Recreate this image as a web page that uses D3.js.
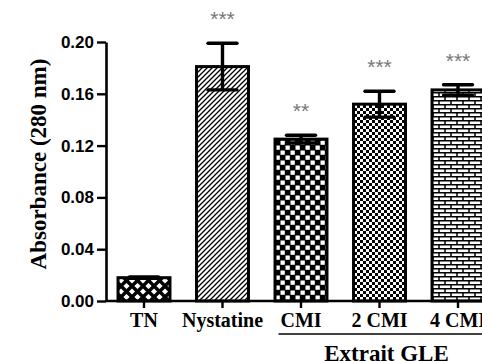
<!DOCTYPE html>
<html>
<head>
<meta charset="utf-8">
<script src="https://cdn.jsdelivr.net/npm/d3@7"></script>
<style>
  body { margin: 0; background: #fff; }
  svg { display: block; }
</style>
</head>
<body>
<div id="chart"></div>
<script>
const categories = ["TN", "Nystatine", "CMI", "2 CMI", "4 CMI"];
const means = [0.018, 0.181, 0.125, 0.152, 0.163];
const errors = [0.0005, 0.018, 0.003, 0.010, 0.004];
const stars = ["", "***", "**", "***", "***"];
const patterns = ["cross", "diag", "checker", "fine", "brick"];
const yTicks = [0, 0.04, 0.08, 0.12, 0.16, 0.20];
const groupLabel = "Extrait GLE";

const width = 482, height = 361;
const svg = d3.select("#chart").append("svg")
  .attr("width", width)
  .attr("height", height);

// fill patterns
const defs = svg.append("defs");

const cross = defs.append("pattern").attr("id", "cross")
  .attr("patternUnits", "userSpaceOnUse").attr("width", 11).attr("height", 11);
cross.append("rect").attr("width", 11).attr("height", 11).attr("fill", "#fff");
cross.append("path").attr("d", "M-1,-1L12,12M12,-1L-1,12")
  .attr("stroke", "#000").attr("stroke-width", 3.4);

const diag = defs.append("pattern").attr("id", "diag")
  .attr("patternUnits", "userSpaceOnUse").attr("width", 5).attr("height", 5);
diag.append("rect").attr("width", 5).attr("height", 5).attr("fill", "#fff");
diag.append("path").attr("d", "M-1,6L6,-1M-1,1L1,-1M4,6L6,4")
  .attr("stroke", "#000").attr("stroke-width", 1.3);

const checker = defs.append("pattern").attr("id", "checker")
  .attr("patternUnits", "userSpaceOnUse").attr("width", 10).attr("height", 10);
checker.append("rect").attr("width", 10).attr("height", 10).attr("fill", "#000");
checker.append("rect").attr("x", 0.5).attr("y", 0.5).attr("width", 4.3).attr("height", 4.3).attr("fill", "#fff");
checker.append("rect").attr("x", 5.5).attr("y", 5.5).attr("width", 4.3).attr("height", 4.3).attr("fill", "#fff");

const fine = defs.append("pattern").attr("id", "fine")
  .attr("patternUnits", "userSpaceOnUse").attr("width", 6).attr("height", 6);
fine.append("rect").attr("width", 6).attr("height", 6).attr("fill", "#fff");
fine.append("rect").attr("width", 3).attr("height", 3).attr("fill", "#000");
fine.append("rect").attr("x", 3).attr("y", 3).attr("width", 3).attr("height", 3).attr("fill", "#000");

const brick = defs.append("pattern").attr("id", "brick")
  .attr("patternUnits", "userSpaceOnUse").attr("width", 12).attr("height", 8);
brick.append("rect").attr("width", 12).attr("height", 8).attr("fill", "#fff");
brick.append("path").attr("d", "M0,0.7H12M0,4.7H12M1,0V4.7M7,4.7V8")
  .attr("stroke", "#000").attr("stroke-width", 1.5);

// scales
const x = d3.scaleBand()
  .domain(categories)
  .range([106, 496])
  .paddingInner(0.3)
  .paddingOuter(0.134);

const y = d3.scaleLinear()
  .domain([0, 0.2])
  .range([301, 42]);

// bars
svg.append("g")
  .selectAll("rect")
  .data(categories)
  .join("rect")
  .attr("x", d => x(d) + 1.5)
  .attr("y", (d, i) => y(means[i]))
  .attr("width", x.bandwidth() - 3)
  .attr("height", (d, i) => y(0) - y(means[i]))
  .attr("fill", (d, i) => `url(#${patterns[i]})`)
  .attr("stroke", "#000")
  .attr("stroke-width", 3);

// error bars
const eb = svg.append("g").attr("stroke", "#000").attr("stroke-width", 3.4);
categories.forEach((c, i) => {
  const cx = x(c) + x.bandwidth() / 2;
  const hi = y(means[i] + errors[i]), lo = y(means[i] - errors[i]);
  eb.append("line").attr("x1", cx).attr("x2", cx).attr("y1", hi).attr("y2", lo);
  eb.append("line").attr("x1", cx - 14.5).attr("x2", cx + 14.5).attr("y1", hi).attr("y2", hi)
    .attr("stroke-linecap", "round");
  eb.append("line").attr("x1", cx - 14.5).attr("x2", cx + 14.5).attr("y1", lo).attr("y2", lo)
    .attr("stroke-linecap", "round");
});

// significance stars
svg.append("g")
  .selectAll("text")
  .data(categories)
  .join("text")
  .attr("x", d => x(d) + x.bandwidth() / 2)
  .attr("y", (d, i) => y(means[i] + errors[i]) - 17)
  .attr("text-anchor", "middle")
  .attr("font-family", "'Liberation Sans', Arial, sans-serif")
  .attr("font-size", 21)
  .attr("fill", "#777")
  .text((d, i) => stars[i]);

// y axis
const yAxis = svg.append("g")
  .attr("transform", "translate(106,0)")
  .call(d3.axisLeft(y).tickValues(yTicks).tickFormat(d3.format(".2f")).tickSize(9).tickSizeOuter(0).tickPadding(3));
yAxis.select(".domain").attr("stroke-width", 2.6);
yAxis.selectAll(".tick line").attr("stroke-width", 2.4);
yAxis.selectAll(".tick text")
  .attr("font-family", "'Liberation Sans', Arial, sans-serif")
  .attr("font-weight", "bold")
  .attr("font-size", 17)
  .attr("fill", "#000");

// x axis
const xAxis = svg.append("g")
  .attr("transform", "translate(0,301)")
  .call(d3.axisBottom(x).tickSize(7).tickSizeOuter(0).tickPadding(5));
xAxis.select(".domain").attr("d", `M106,0H${width}`).attr("stroke-width", 2.6);
xAxis.selectAll(".tick line").attr("stroke-width", 2.4);
xAxis.selectAll(".tick text")
  .attr("font-family", "'Liberation Serif', 'Times New Roman', serif")
  .attr("font-weight", "bold")
  .attr("font-size", 20)
  .attr("fill", "#000");

// group bracket
svg.append("line")
  .attr("x1", x("CMI") + 5).attr("x2", width)
  .attr("y1", 334).attr("y2", 334)
  .attr("stroke", "#000").attr("stroke-width", 1.6);
svg.append("text")
  .attr("x", x("2 CMI") + x.bandwidth() / 2 + 7)
  .attr("y", 361)
  .attr("text-anchor", "middle")
  .attr("font-family", "'Liberation Serif', 'Times New Roman', serif")
  .attr("font-weight", "bold")
  .attr("font-size", 23)
  .text(groupLabel);

// y title
svg.append("text")
  .attr("transform", "translate(46,164) rotate(-90)")
  .attr("text-anchor", "middle")
  .attr("font-family", "'Liberation Serif', 'Times New Roman', serif")
  .attr("font-weight", "bold")
  .attr("font-size", 23)
  .text("Absorbance (280 nm)");
</script>
</body>
</html>
